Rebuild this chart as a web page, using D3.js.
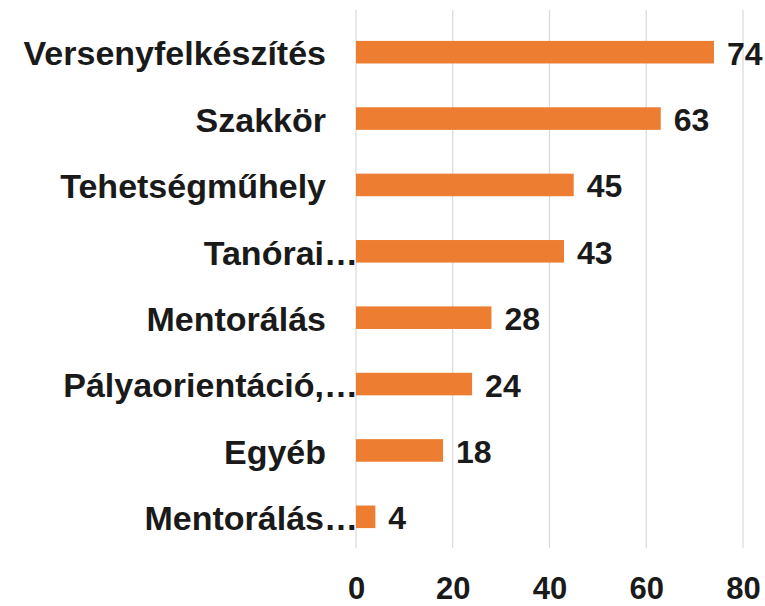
<!DOCTYPE html>
<html>
<head>
<meta charset="utf-8">
<script src="https://cdn.jsdelivr.net/npm/d3@7"></script>
<style>
  html, body { margin: 0; padding: 0; background: #ffffff; }
  svg { display: block; }
  text { font-family: "Liberation Sans", Arial, sans-serif; font-weight: bold; fill: #1a1a1a; }
</style>
</head>
<body>
<svg id="chart" width="765" height="606"></svg>
<script>
const categories = ["Versenyfelkészítés", "Szakkör", "Tehetségműhely", "Tanórai…", "Mentorálás", "Pályaorientáció,…", "Egyéb", "Mentorálás…"];
const values = [74, 63, 45, 43, 28, 24, 18, 4];
const tickValues = [0, 20, 40, 60, 80];

const svg = d3.select("#chart");
const x = d3.scaleLinear().domain([0, 80]).range([356, 743]);
const y = d3.scaleBand().domain(categories).range([19, 550]).paddingInner(0.66).paddingOuter(0.33);

// gridlines
svg.append("g").selectAll("line").data(tickValues).join("line")
  .attr("x1", d => x(d)).attr("x2", d => x(d))
  .attr("y1", 10).attr("y2", 548)
  .attr("stroke", "#d9d9d9").attr("stroke-width", 1.2);

// bars
svg.append("g").selectAll("rect").data(values).join("rect")
  .attr("x", x(0))
  .attr("y", (d, i) => y(categories[i]))
  .attr("width", d => x(d) - x(0))
  .attr("height", y.bandwidth())
  .attr("fill", "#ED7D31");

// category labels
svg.append("g").selectAll("text").data(categories).join("text")
  .attr("x", d => d.endsWith("…") ? 358 : 326)
  .attr("y", d => y(d) + y.bandwidth() / 2 + 1)
  .attr("dy", "0.36em")
  .attr("text-anchor", "end")
  .attr("font-size", 34)
  .text(d => d);

// value labels
svg.append("g").selectAll("text").data(values).join("text")
  .attr("x", d => x(d) + 13)
  .attr("y", (d, i) => y(categories[i]) + y.bandwidth() / 2 + 1)
  .attr("dy", "0.36em")
  .attr("font-size", 32)
  .text(d => d);

// x axis
const axis = d3.axisBottom(x).tickValues(tickValues).tickSize(0).tickPadding(0);
const gAxis = svg.append("g").attr("transform", "translate(0,599)").call(axis);
gAxis.select(".domain").remove();
gAxis.selectAll("text")
  .attr("font-size", 31)
  .attr("dy", "0")
  .attr("y", 0)
  .style("font-family", "'Liberation Sans', Arial, sans-serif")
  .style("font-weight", "bold")
  .attr("fill", "#1a1a1a");
</script>
</body>
</html>
